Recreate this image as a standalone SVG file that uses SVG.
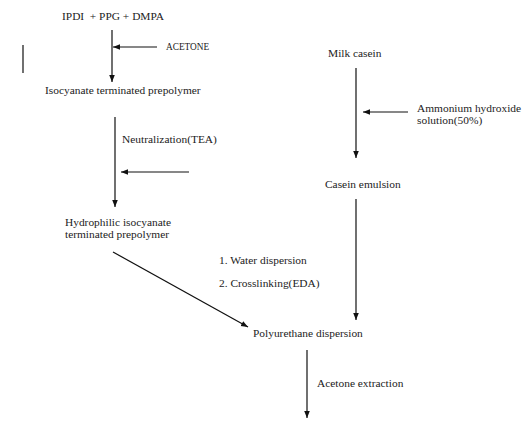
<svg xmlns="http://www.w3.org/2000/svg" width="532" height="432" viewBox="0 0 532 432">
<style>
text{font-family:"Liberation Serif","Times New Roman",serif;font-size:11.4px;fill:#222}
.s{font-size:9.3px}
.c{stroke:#111;stroke-width:1.2;fill:none}
</style>
<defs>
<marker id="ah" viewBox="0 0 10 10" refX="10" refY="5" markerWidth="7" markerHeight="7" markerUnits="userSpaceOnUse" orient="auto">
<path d="M0,1 L10,5 L0,9 Z" fill="#111"/>
</marker>
</defs>
<rect width="532" height="432" fill="#fff"/>
<g id="connectors">
<line class="c" x1="112" y1="30" x2="112" y2="82" marker-end="url(#ah)"/>
<line class="c" x1="157" y1="47" x2="113" y2="47" marker-end="url(#ah)"/>
<line class="c" x1="23" y1="45" x2="23" y2="73"/>
<line class="c" x1="115" y1="117" x2="115" y2="207" marker-end="url(#ah)"/>
<line class="c" x1="189" y1="172" x2="121" y2="172" marker-end="url(#ah)"/>
<line class="c" x1="356" y1="68" x2="356" y2="158" marker-end="url(#ah)"/>
<line class="c" x1="408" y1="112" x2="363" y2="112" marker-end="url(#ah)"/>
<line class="c" x1="356" y1="199" x2="356" y2="320" marker-end="url(#ah)"/>
<line class="c" x1="113" y1="252" x2="248" y2="327" marker-end="url(#ah)"/>
<line class="c" x1="307" y1="350" x2="307" y2="418" marker-end="url(#ah)"/>
</g>
<g id="n-reactants"><text x="62" y="20" style="white-space:pre">IPDI  + PPG + DMPA</text></g>
<g id="n-acetone"><text class="s" x="166" y="50">ACETONE</text></g>
<g id="n-prepolymer"><text x="45" y="94">Isocyanate terminated prepolymer</text></g>
<g id="n-neutralization"><text x="122" y="143">Neutralization(TEA)</text></g>
<g id="n-hydrophilic"><text x="65" y="226">Hydrophilic isocyanate</text><text x="65" y="238">terminated prepolymer</text></g>
<g id="n-milk"><text x="328" y="57">Milk casein</text></g>
<g id="n-ammonium"><text x="417" y="112">Ammonium hydroxide</text><text x="417" y="124">solution(50%)</text></g>
<g id="n-emulsion"><text x="325" y="188">Casein emulsion</text></g>
<g id="n-steps"><text x="219" y="264">1. Water dispersion</text><text x="219" y="287">2. Crosslinking(EDA)</text></g>
<g id="n-pud"><text x="253" y="337">Polyurethane dispersion</text></g>
<g id="n-extraction"><text x="317" y="387">Acetone extraction</text></g>
</svg>
